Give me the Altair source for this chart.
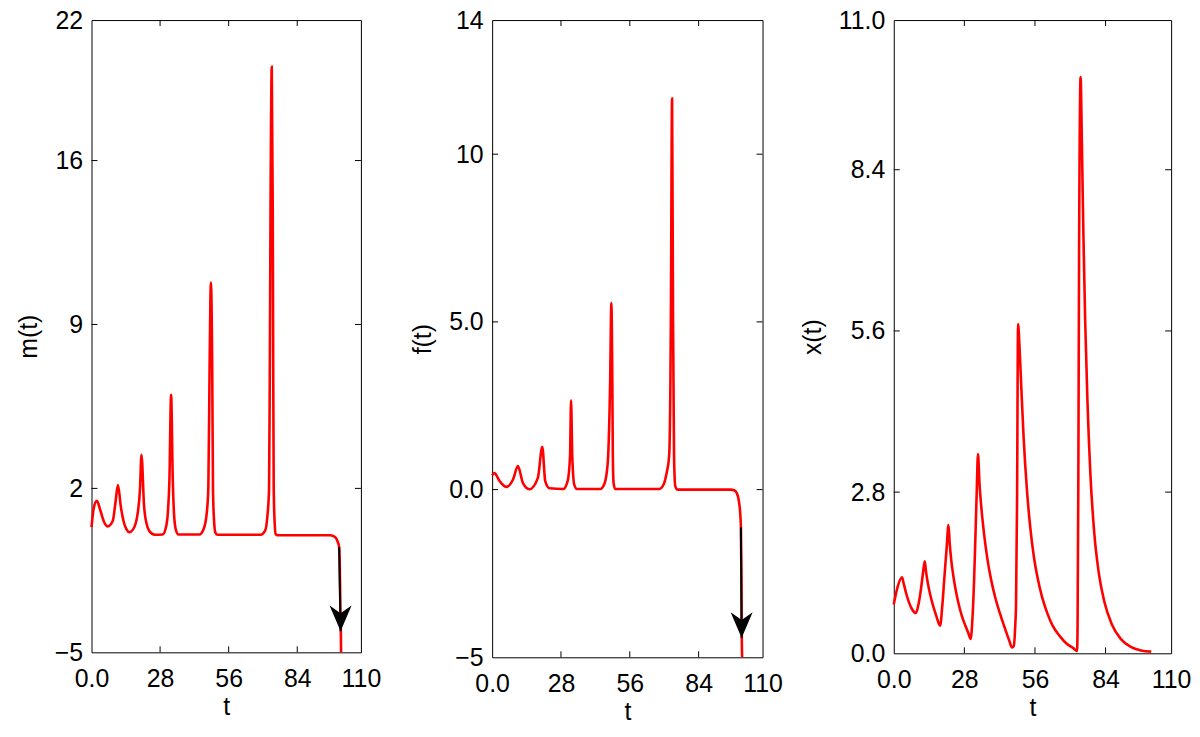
import altair as alt
import pandas as pd

FONT = "Liberation Sans"

# axis ticks / labels
T_TICKS = [0, 28, 56, 84, 110]
T_LABELS = ["0.0", "28", "56", "84", "110"]
M_TICKS = [-5, 2, 9, 16, 22]
M_LABELS = ["\u22125", "2", "9", "16", "22"]
F_TICKS = [-5, 0, 5, 10, 14]
F_LABELS = ["\u22125", "0.0", "5.0", "10", "14"]
X_TICKS = [0, 2.8, 5.6, 8.4, 11]
X_LABELS = ["0.0", "2.8", "5.6", "8.4", "11.0"]

# m(t)
m_t = [0, 1.0, 2.2, 3.5, 5.0, 6.6, 8.7, 9.7, 10.8, 12.0, 13.4, 14.3, 15.4, 17.0, 18.8, 19.8, 20.4,
       21.5, 22.9, 24.5, 26.0, 29.0, 30.3, 31.2, 31.8, 32.5, 33.2, 33.7, 34.4, 35.5, 44.0, 45.9,
       47.0, 47.7, 48.2, 48.75, 49.3, 49.6, 50.0, 50.6, 51.5, 69.0, 70.9, 71.8, 72.5, 72.8, 73.1,
       73.6, 74.0, 74.2, 74.4, 74.8, 75.2, 76.0, 97.5, 98.6, 99.8, 100.6, 101.1, 101.4, 101.6,
       101.8, 101.9]
m_v = [0.35, 1.2, 1.47, 1.1, 0.6, 0.38, 0.62, 1.33, 2.14, 1.2, 0.48, 0.25, 0.13, 0.25, 0.9, 1.97,
       3.44, 1.19, 0.34, 0.08, 0.02, 0.03, 0.3, 1.0, 2.3, 6.0, 2.3, 0.9, 0.25, 0.03, 0.03, 0.3,
       0.9, 2.0, 7.0, 10.79, 7.0, 2.0, 0.7, 0.1, 0.02, 0.02, 0.2, 0.8, 2.0, 7.0, 14.0,
       20.0, 14.0, 7.0, 2.0, 0.5, 0.05, 0.0, 0.0, -0.03, -0.12, -0.3, -0.5, -1.5, -3.0,
       -4.1, -5.0]
m_arrow_t = [101.1, 101.7]
m_arrow_v = [-0.5, -4.1]
m_head_t = [101.7]
m_head_v = [-3.55]

# f(t)
f_t = [0, 0.9, 3.1, 5.8, 8.5, 10.5, 12.5, 15.2, 18.6, 20.4, 21.6, 23.3, 29.0, 30.7, 31.7, 32.1,
       32.6, 33.4, 34.5, 44.0, 45.6, 46.6, 47.2, 48.0, 48.5, 48.9, 49.1, 49.4, 50.0, 68.0, 69.8,
       71.0, 72.0, 72.5, 72.7, 73.2, 73.6, 73.8, 74.0, 74.5, 75.5, 97.0, 98.5, 99.5, 100.4,
       101.0, 101.2, 101.4, 101.5, 101.7]
f_v = [0.43, 0.49, 0.25, 0.08, 0.3, 0.70, 0.2, 0.01, 0.35, 1.28, 0.25, 0.04, 0.02, 0.25, 1.0, 2.66,
       1.0, 0.15, 0.02, 0.02, 0.16, 0.5, 1.0, 3.2, 5.56, 3.2, 1.0, 0.2, 0.02, 0.02, 0.16,
       0.5, 1.0, 3.0, 5.0, 11.66, 5.0, 3.0, 1.0, 0.1, 0.0, 0.0, -0.02, -0.1, -0.35,
       -0.8, -1.12, -2.5, -4.0, -5.0]
f_arrow_t = [101.2, 101.5]
f_arrow_v = [-1.12, -4.42]
f_head_t = [101.5]
f_head_v = [-4.04]

# x(t)
x_t = [0.0, 1.5, 3.3, 4.0, 5.0, 6.0, 7.2, 8.8, 9.8, 10.8, 11.6, 12.3, 12.8, 13.5, 14.4, 15.5,
       16.8, 18.4, 19.2, 20.0, 21.0, 21.7, 22.2, 22.8, 23.5, 24.4, 25.5, 27.0, 28.5, 29.5, 30.5,
       31.2, 31.8, 32.3, 32.9, 33.4, 34.0, 34.8, 35.8, 37.1, 38.6, 40.3, 42.2, 44.2, 45.8, 46.9,
       47.6, 48.2, 48.5, 48.9, 49.3, 49.9, 50.6, 51.5, 52.8, 54.1, 55.5, 57.0, 58.8, 60.7, 63.0,
       66.0, 68.5, 71.2, 72.7, 72.9, 73.2, 73.5, 74.1, 74.6, 75.2, 75.9, 76.8, 78.0, 79.5, 81.3,
       83.5, 86.5, 90.0, 94.0, 98.0, 102.1]
x_v = [0.85, 1.15, 1.32, 1.2, 1.03, 0.89, 0.77, 0.70, 0.85, 1.12, 1.4, 1.60, 1.42, 1.22, 1.03, 0.84,
       0.66, 0.48, 0.8, 1.27, 1.85, 2.23, 1.9, 1.62, 1.38, 1.14, 0.9, 0.65, 0.47, 0.36, 0.25,
       0.6, 1.2, 1.9, 2.8, 3.46, 2.95, 2.5, 2.08, 1.65, 1.28, 0.96, 0.68, 0.42, 0.22, 0.1,
       0.13, 0.5, 0.88, 2.67, 5.72, 5.3, 4.6, 3.75, 2.85, 2.2, 1.7, 1.32, 0.98, 0.72, 0.48,
       0.29, 0.17, 0.09, 0.04, 0.5, 3.0, 7.0, 10.01, 8.9, 7.3, 5.8, 4.4, 3.1, 2.1, 1.4,
       0.9, 0.5, 0.25, 0.11, 0.05, 0.03]

ARROW_PATH = "M 0 1 L -0.85 -1 L 0 -0.4 L 0.85 -1 Z"


def label_expr(vals, labs):
    parts = [f"datum.value == {v} ? '{l}'" for v, l in zip(vals, labs)]
    return " : ".join(parts) + " : ''"


def axis(vals, labs, title, orient):
    common = dict(
        values=vals, labelExpr=label_expr(vals, labs), title=title,
        ticks=False, tickSize=0, domain=False, grid=False,
        labelOverlap=False, labelFontSize=25, titleFontSize=25,
        labelFont=FONT, titleFont=FONT, titleFontWeight="normal",
        labelColor="black", titleColor="black", labelBound=False,
    )
    if orient == "x":
        return alt.Axis(labelFlush=False, labelPadding=14, titlePadding=4, **common)
    return alt.Axis(labelPadding=9, titlePadding=13, **common)


def panel(t, v, yticks, ylabels, ytitle, W, H, arrow=None):
    df = pd.DataFrame({"t": t, "v": v})
    xs = alt.Scale(domain=[T_TICKS[0], T_TICKS[-1]], nice=False, zero=False)
    ys = alt.Scale(domain=[yticks[0], yticks[-1]], nice=False, zero=False)
    xax = axis(T_TICKS, T_LABELS, "t", "x")
    yax = axis(yticks, ylabels, ytitle, "y")

    line = alt.Chart(df).mark_line(color="#ff0000", strokeWidth=2.6, interpolate="monotone").encode(
        x=alt.X("t:Q", scale=xs, axis=xax),
        y=alt.Y("v:Q", scale=ys, axis=yax),
    )

    xt = pd.DataFrame({"t": T_TICKS[1:-1]})
    yt = pd.DataFrame({"v": yticks[1:-1]})
    rule_kw = dict(color="black", strokeWidth=1)
    tb = alt.Chart(xt).mark_rule(**rule_kw).encode(
        x=alt.X("t:Q", scale=xs, axis=xax), y=alt.value(H), y2=alt.value(H - 6))
    tt = alt.Chart(xt).mark_rule(**rule_kw).encode(
        x=alt.X("t:Q", scale=xs, axis=xax), y=alt.value(0), y2=alt.value(6))
    tl = alt.Chart(yt).mark_rule(**rule_kw).encode(
        y=alt.Y("v:Q", scale=ys, axis=yax), x=alt.value(0), x2=alt.value(6))
    tr = alt.Chart(yt).mark_rule(**rule_kw).encode(
        y=alt.Y("v:Q", scale=ys, axis=yax), x=alt.value(W), x2=alt.value(W - 6))

    layers = [line, tb, tt, tl, tr]
    if arrow is not None:
        at, av, ht, hv = arrow
        seg = alt.Chart(pd.DataFrame({"t": at, "v": av})).mark_line(color="black", strokeWidth=2).encode(
            x=alt.X("t:Q", scale=xs, axis=xax), y=alt.Y("v:Q", scale=ys, axis=yax))
        head = alt.Chart(pd.DataFrame({"t": ht, "v": hv})).mark_point(
            shape=ARROW_PATH, filled=True, color="black", opacity=1, size=676, strokeWidth=0
        ).encode(x=alt.X("t:Q", scale=xs, axis=xax), y=alt.Y("v:Q", scale=ys, axis=yax))
        layers += [seg, head]
    return alt.layer(*layers).properties(width=W, height=H)


p1 = panel(m_t, m_v, M_TICKS, M_LABELS, "m(t)", 271, 636, (m_arrow_t, m_arrow_v, m_head_t, m_head_v))
p2 = panel(f_t, f_v, F_TICKS, F_LABELS, "f(t)", 272, 641, (f_arrow_t, f_arrow_v, f_head_t, f_head_v))
p3 = panel(x_t, x_v, X_TICKS, X_LABELS, "x(t)", 279, 637)

chart = alt.hconcat(p1, p2, p3, spacing=132).properties(
    bounds="flush",
    padding={"left": 7, "top": -3, "right": 0, "bottom": 0},
    background="white",
).configure_view(stroke="black", strokeWidth=1)

chart.save("out.html", embed_options={"renderer": "svg", "actions": False})
